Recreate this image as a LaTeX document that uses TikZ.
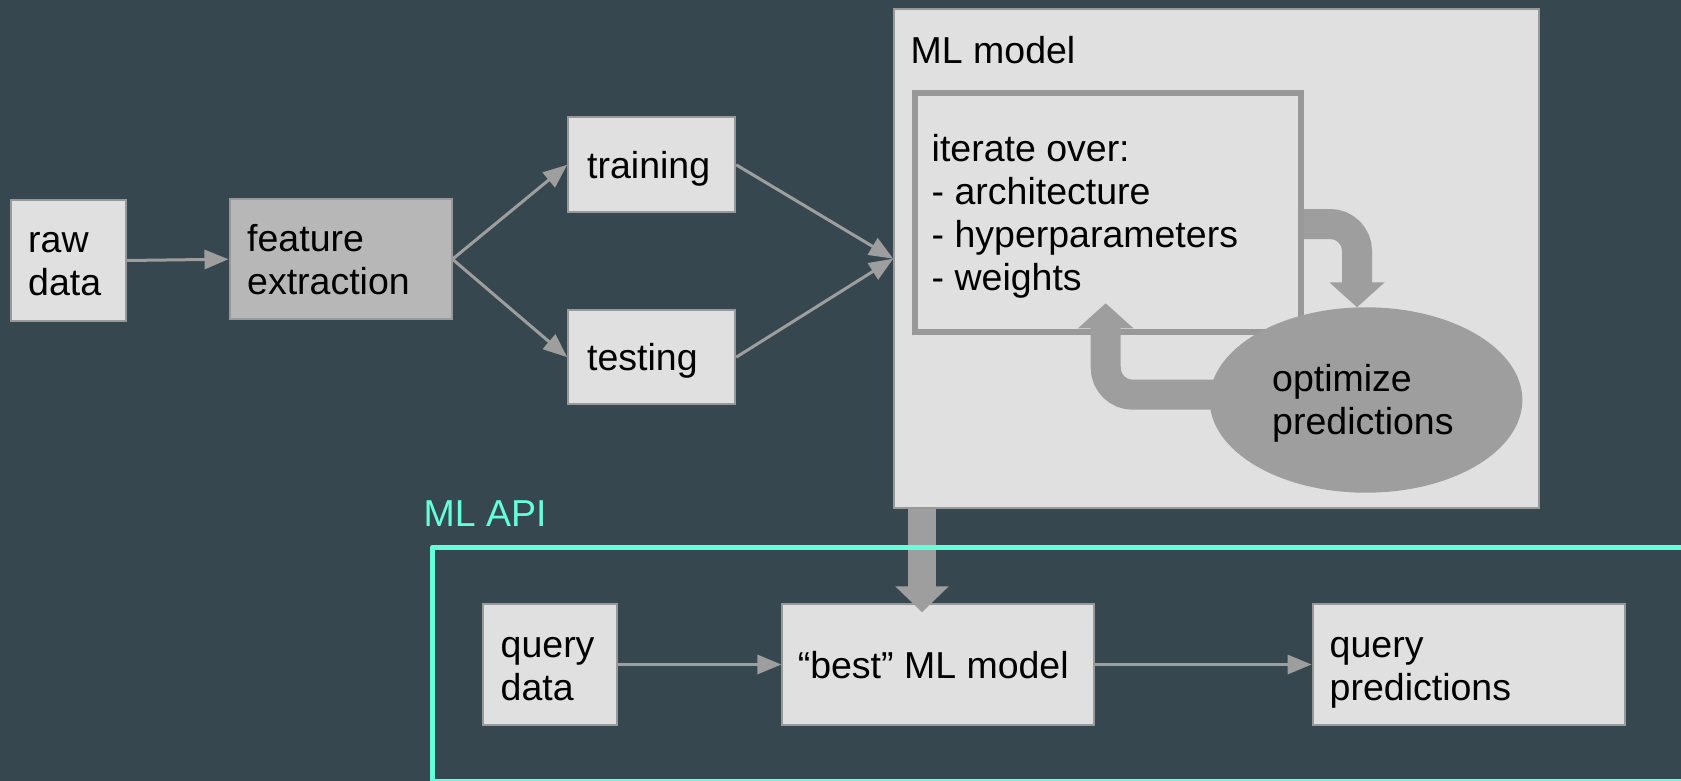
\documentclass[tikz,border=0pt]{standalone}
\usepackage{fontspec}
\setmainfont{Liberation Sans}
\usetikzlibrary{arrows.meta,shapes.geometric,calc}

\definecolor{bgslate}{HTML}{37474F}
\definecolor{boxfill}{HTML}{E0E0E0}
\definecolor{boxline}{HTML}{999999}
\definecolor{featfill}{HTML}{B7B7B7}
\definecolor{flow}{HTML}{9E9E9E}
\definecolor{apiteal}{HTML}{64FFDA}

\begin{document}
\begin{tikzpicture}[x=1pt,y=-1pt,
  box/.style={rectangle, draw=boxline, fill=boxfill, line width=2pt, inner sep=0pt},
  % multi-line labels sit on the baseline of their last line
  lbl/.style={anchor=base west, inner sep=0pt, align=left, text=black,
              font=\fontsize{37.5}{43}\selectfont},
  flowarrow/.style={draw=flow, line width=3pt, -{Triangle[length=24pt,width=19pt]}},
  looparrow/.style={draw=flow, line width=30pt, rounded corners=27pt,
                    -{Triangle[length=25pt,width=54pt]}},
  downarrow/.style={draw=flow, line width=27.4pt, -{Triangle[length=26pt,width=52pt]}},
]
% canvas
\fill[bgslate] (0,0) rectangle (1681,781);
\useasboundingbox (0,0) rectangle (1681,781);
\clip (0,0) rectangle (1681,781);

% data preparation boxes
\node[box, minimum width=115pt, minimum height=121pt] (raw) at (68.5,260.5) {};
\node[box, fill=featfill, minimum width=222pt, minimum height=120pt] (feat) at (340.5,259.2) {};
\node[box, minimum width=167pt, minimum height=95pt] (train) at (651.7,164.8) {};
\node[box, minimum width=167pt, minimum height=94pt] (test) at (651.7,357.2) {};

% model container with the iteration loop
\node[box, minimum width=645pt, minimum height=498.7pt] (ml) at (1216.7,258.7) {};
\node[box, line width=6pt, minimum width=385.5pt, minimum height=238.5pt] (iter) at (1107.75,212.75) {};

\coordinate (yA) at (0,224);
\coordinate (yB) at (0,394.7);
\coordinate (tipA) at (1357,307.3);
\coordinate (tipB) at (1105.7,303.3);
\draw[looparrow] (iter.east |- yA) -| (tipA);

\node[ellipse, inner sep=0pt, minimum width=312.7pt, minimum height=185.4pt] (opt) at (1366,400) {};
\draw[looparrow] (opt.center |- yB) -| (tipB);
\fill[flow] (opt.center) ellipse [x radius=156.35pt, y radius=92.7pt];

% serving boxes
\node[box, minimum width=134pt, minimum height=121pt] (qd) at (550.3,664.5) {};
\node[box, minimum width=312pt, minimum height=121pt] (best) at (938.4,664.5) {};
\node[box, minimum width=312.4pt, minimum height=121pt] (pred) at (1468.8,664.5) {};

% hand-over of the chosen model
\coordinate (dn) at (922,0);
\draw[downarrow] (ml.south -| dn) -- ($(best.north -| dn)+(0,9.3)$);

% API frame
\draw[apiteal, line width=5.5pt, line join=round] (432.5,547.3) rectangle (1700,781.7);

% connectors
\draw[flowarrow] (raw.east) -- (feat.west);
\draw[flowarrow] (feat.east) -- (train.west);
\draw[flowarrow] (feat.east) -- (test.west);
\draw[flowarrow] (train.east) -- (ml.west);
\draw[flowarrow] (test.east) -- (ml.west);
\draw[flowarrow] (qd.east) -- (best.west);
\draw[flowarrow] (best.east) -- (pred.west);

% labels
\node[lbl] (rawtxt) at (28,295) {raw\\data};
\node[lbl] (feattxt) at (247,294) {feature\\extraction};
\node[lbl] (traintxt) at (587,178.3) {training};
\node[lbl] (testtxt) at (587,370) {testing};
\node[lbl] (mltxt) at (910.5,63.3) {ML model};
\node[lbl] (itertxt) at (931.5,290.5) {iterate over:\\- architecture\\- hyperparameters\\- weights};
\node[lbl] (opttxt) at (1272,434) {optimize\\predictions};
\node[lbl] (qdtxt) at (500.5,700) {query\\data};
\node[lbl] (besttxt) at (797.6,678.3) {“best” ML model};
\node[lbl] (predtxt) at (1329.5,700) {query\\predictions};
\node[lbl, text=apiteal] (apitxt) at (423.5,526.7) {ML API};
\end{tikzpicture}
\end{document}
